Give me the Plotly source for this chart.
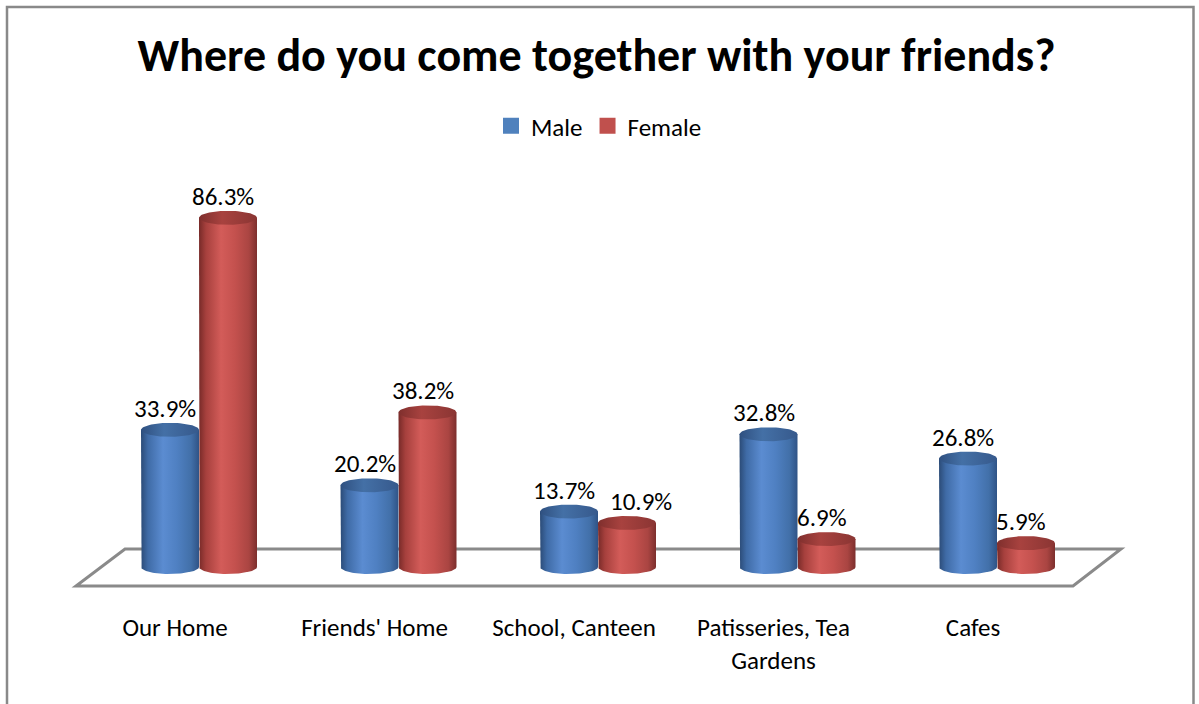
import numpy as np
import plotly.graph_objects as go

# Survey results (% of respondents)
categories = ["Our Home", "Friends' Home", "School, Canteen",
              "Patisseries, Tea<br>Gardens", "Cafes"]
male = [33.9, 20.2, 13.7, 32.8, 26.8]
female = [86.3, 38.2, 10.9, 6.9, 5.9]
series_names = ["Male", "Female"]

# ---- geometry (pixels) ----
W, H = 1199, 704
PX_PER_CAT = 199.5       # horizontal size of one category slot
PX_PER_PCT = 4.046       # vertical pixels per percentage point
X0_PX = 99.25            # pixel position of x = 0
Y0_PX = 567              # pixel position of value 0
PLOT_TOP, PLOT_BOTTOM = 150, 600

x_range = [-X0_PX / PX_PER_CAT, (W - X0_PX) / PX_PER_CAT]
y_range = [(Y0_PX - PLOT_BOTTOM) / PX_PER_PCT, (Y0_PX - PLOT_TOP) / PX_PER_PCT]

HALF_W = 29 / PX_PER_CAT      # cylinder radius in x units
HALF_H = 7 / PX_PER_PCT       # ellipse half-height in y units
LABEL_SHIFT_X = -5            # data-label nudge (px)

FONT = "Calibri, Carlito, Lato, sans-serif"

body_scales = {
    "Male": [[0, "#2b4b77"], [0.12, "#3f6ba6"], [0.38, "#5b8cd1"],
             [0.62, "#4f80c2"], [0.86, "#4270a9"], [1, "#2f5386"]],
    "Female": [[0, "#772a28"], [0.12, "#a6403d"], [0.38, "#d35c59"],
               [0.62, "#c4514e"], [0.86, "#aa4542"], [1, "#7d2f2d"]],
}
cap_scales = {
    "Male": [[0, "#2f5080"], [0.4, "#4470a6"], [1, "#36598c"]],
    "Female": [[0, "#7f2f2d"], [0.4, "#a8423f"], [1, "#8a3533"]],
}
legend_colors = {"Male": "#4f81bd", "Female": "#c0504d"}
label_nudge = {("Female", 2): 19}

fig = go.Figure()


def add_cylinder(xc, v, name):
    # body: left side down, front half of base ellipse, right side up
    t = np.linspace(np.pi, 2 * np.pi, 48)
    bx = xc + HALF_W * np.cos(t)
    by = HALF_H * np.sin(t)
    xs = [xc - HALF_W] + list(bx) + [xc + HALF_W, xc - HALF_W]
    ys = [v] + list(by) + [v, v]
    fig.add_trace(go.Scatter(
        x=xs, y=ys, mode="lines", fill="toself", line=dict(width=0),
        fillgradient=dict(type="horizontal", colorscale=body_scales[name]),
        hoverinfo="skip", showlegend=False))
    # top cap
    tt = np.linspace(0, 2 * np.pi, 73)
    fig.add_trace(go.Scatter(
        x=xc + HALF_W * np.cos(tt), y=v + HALF_H * np.sin(tt),
        mode="lines", fill="toself", line=dict(width=0),
        fillgradient=dict(type="horizontal", colorscale=cap_scales[name]),
        hoverinfo="skip", showlegend=False))


annotations = []
for i in range(len(categories)):
    for s, (name, vals) in enumerate(zip(series_names, [male, female])):
        xc = i + 0.5 + (2 * s - 1) * HALF_W
        v = vals[i]
        add_cylinder(xc, v, name)
        annotations.append(dict(
            x=xc, y=v, xref="x", yref="y", text=f"{v:.1f}%",
            showarrow=False, yanchor="bottom",
            yshift=4, xshift=LABEL_SHIFT_X + label_nudge.get((name, i), 0),
            font=dict(family=FONT, size=25, color="#000000")))

# legend entries
for name in series_names:
    fig.add_trace(go.Scatter(
        x=[None], y=[None], mode="markers", name=name,
        marker=dict(symbol="square", size=16, color=legend_colors[name])))


def px_to_paper_x(px):
    return px / W


def px_to_paper_y(py):
    return (PLOT_BOTTOM - py) / (PLOT_BOTTOM - PLOT_TOP)


def px_to_data(px, py):
    return (px - X0_PX) / PX_PER_CAT, (Y0_PX - py) / PX_PER_PCT


# floor outline (3D base plane)
floor_px = [(76, 586), (1073, 586), (1121, 549), (125, 549)]
pts = [px_to_data(*p) for p in floor_px]
floor_path = "M " + " L ".join(f"{x:.4f},{y:.4f}" for x, y in pts) + " Z"

shapes = [
    dict(type="path", path=floor_path, xref="x", yref="y", layer="below",
         line=dict(color="#8a8a8a", width=3), fillcolor="rgba(0,0,0,0)"),
    dict(type="rect", xref="paper", yref="paper",
         x0=px_to_paper_x(7), x1=px_to_paper_x(1193.5),
         y0=px_to_paper_y(712), y1=px_to_paper_y(7),
         line=dict(color="#898989", width=2.5), fillcolor="rgba(0,0,0,0)"),
]

fig.update_layout(
    width=W, height=H,
    margin=dict(l=0, r=0, t=PLOT_TOP, b=H - PLOT_BOTTOM),
    paper_bgcolor="#ffffff", plot_bgcolor="#ffffff",
    title=dict(text="<b>Where do you come together with your friends?</b>",
               x=596.5 / W, xanchor="center", y=1 - 55 / H, yanchor="middle",
               font=dict(family=FONT, size=46, color="#000000")),
    legend=dict(orientation="h", x=599 / W, xanchor="center",
                y=px_to_paper_y(126), yanchor="middle",
                font=dict(family=FONT, size=25, color="#000000"),
                itemwidth=30, tracegroupgap=0),
    xaxis=dict(range=x_range, showgrid=False, zeroline=False, showline=False,
               tickmode="array",
               tickvals=[i + 0.5 - 24 / PX_PER_CAT for i in range(len(categories))],
               ticktext=categories, ticks="", ticklabelstandoff=10,
               tickfont=dict(family=FONT, size=25, color="#000000"),
               fixedrange=True),
    yaxis=dict(range=y_range, visible=False, fixedrange=True),
    shapes=shapes,
    annotations=annotations,
    hovermode=False,
)

fig.write_html("out.html")
